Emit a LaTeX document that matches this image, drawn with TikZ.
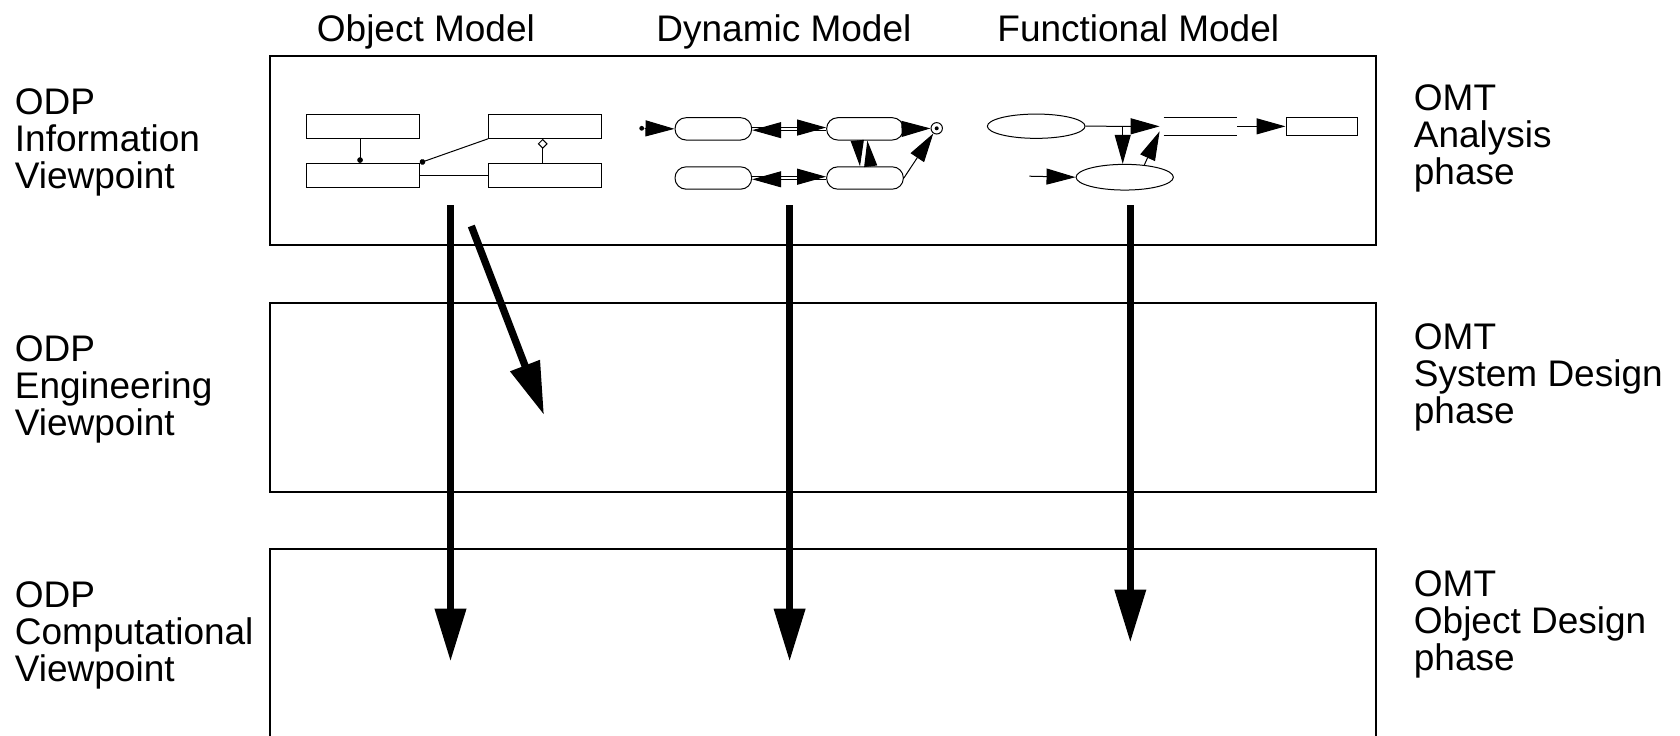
\documentclass[tikz,border=0pt]{standalone}
\usepackage{fontspec}
\setmainfont{Liberation Sans}
\usetikzlibrary{arrows.meta,shapes.geometric}
\begin{document}
\begin{tikzpicture}[x=0.5pt,y=-0.5pt,
  lbl/.style={anchor=base west, inner sep=0, font=\fontsize{18.5pt}{18.5pt}\selectfont},
  frame/.style={draw, line width=0.65pt},
  fine/.style={line width=0.5pt},
  cls/.style={draw, fine, minimum width=56.65pt, minimum height=12.15pt, inner sep=0},
  stt/.style={draw, fine, rounded corners=5.5pt, minimum width=38.35pt, minimum height=11.15pt, inner sep=0},
  sarrow/.style={fine, -{Triangle[length=14.5pt,width=8pt]}},
  varrow/.style={fine, -{Triangle[length=13pt,width=6.5pt]}},
  bigarrow/.style={line width=3.65pt, -{Triangle[length=26.5pt,width=15pt]}},
  dotend/.style={fine, -{Circle[length=2.8pt]}},
]
\useasboundingbox (0,0) rectangle (1680,735);
% headers
\node[lbl] (hObj) at (316.5,41) {Object Model};
\node[lbl] (hDyn) at (656,41) {Dynamic Model};
\node[lbl] (hFun) at (997,41) {Functional Model};
% left labels
\node[lbl] (l1a) at (14.5,114.6) {ODP};
\node[lbl] (l1b) at (14.5,151.6) {Information};
\node[lbl] (l1c) at (14.5,188.6) {Viewpoint};
\node[lbl] (l2a) at (14.5,361.1) {ODP};
\node[lbl] (l2b) at (14.5,398.1) {Engineering};
\node[lbl] (l2c) at (14.5,435.1) {Viewpoint};
\node[lbl] (l3a) at (14.5,607.6) {ODP};
\node[lbl] (l3b) at (14.5,644.6) {Computational};
\node[lbl] (l3c) at (14.5,681.6) {Viewpoint};
% right labels
\node[lbl] (r1a) at (1413.5,110.5) {OMT};
\node[lbl] (r1b) at (1413.5,147.5) {Analysis};
\node[lbl] (r1c) at (1413.5,184.5) {phase};
\node[lbl] (r2a) at (1413.5,349.5) {OMT};
\node[lbl] (r2b) at (1413.5,386.5) {System Design};
\node[lbl] (r2c) at (1413.5,423.5) {phase};
\node[lbl] (r3a) at (1413.5,596) {OMT};
\node[lbl] (r3b) at (1413.5,633) {Object Design};
\node[lbl] (r3c) at (1413.5,670) {phase};
% frames
\node[frame, minimum width=553pt, minimum height=94.5pt, inner sep=0] (box1) at (823,150.5) {};
\node[frame, minimum width=553pt, minimum height=94.5pt, inner sep=0] (box2) at (823,397.5) {};
\draw[frame] (270,740) -- (270,549) -- (1376,549) -- (1376,740);
% object model
\node[cls] (cTL) at (362.65,126.15) {};
\node[cls] (cTR) at (545.2,126.15) {};
\node[cls] (cBL) at (362.65,175.5) {};
\node[cls] (cBR) at (545.2,175.5) {};
\draw[dotend] ([xshift=-1.3pt]cTL.south) -- ([xshift=-1.3pt]cBL.north);
\draw[dotend] (cTR.south west) -- (cBL.north east);
\draw[fine] (cBL.east) -- (cBR.west);
\draw[fine, {Diamond[open,length=5pt,width=5pt]}-] ([xshift=-1.25pt]cTR.south) -- ([xshift=-1.25pt]cBR.north);
% dynamic model
\node[stt] (s1) at (713.35,128.85) {};
\node[stt] (s2) at (865,128.85) {};
\node[stt] (s3) at (713.35,178) {};
\node[stt] (s4) at (865,178) {};
\node[circle, fill, inner sep=0, minimum size=2.4pt] (init) at (641.7,128.3) {};
\node[circle, draw, fine, inner sep=0, minimum size=5.7pt] (final) at (936.7,128.3) {};
\fill (final.center) circle (1pt);
\draw[sarrow] (init) -- (s1.west);
\draw[sarrow] ([yshift=0.65pt]s1.east) -- ([yshift=0.65pt]s2.west);
\draw[sarrow] ([yshift=-0.65pt]s2.west) -- ([yshift=-0.65pt]s1.east);
\draw[sarrow] ([yshift=0.65pt]s3.east) -- ([yshift=0.65pt]s4.west);
\draw[sarrow] ([yshift=-0.65pt]s4.west) -- ([yshift=-0.65pt]s3.east);
\draw[varrow] ([xshift=-3.85pt]s2.south) -- ([xshift=-2.5pt]s4.north);
\draw[varrow] ([xshift=2.85pt]s4.north) -- ([xshift=1.15pt]s2.south);
\draw[sarrow] (s2.east) -- (final);
\draw[sarrow] (s4.east) -- (final);
% functional model
\node[ellipse, draw, fine, inner sep=0, minimum width=48.85pt, minimum height=12.15pt] (e1) at (1036.2,126.2) {};
\node[ellipse, draw, fine, inner sep=0, minimum width=48.65pt, minimum height=12.85pt] (e2) at (1124.7,177.2) {};
\node[inner sep=0, minimum width=36.35pt, minimum height=8.65pt] (store) at (1200.35,126.35) {};
\draw[fine] (store.north west) -- (store.north east);
\draw[fine] (store.south west) -- (store.south east);
\node[draw, fine, inner sep=0, minimum width=35.85pt, minimum height=8.65pt] (sink) at (1321.85,126.35) {};
\coordinate (junc) at (1122.7,126.2);
\coordinate (fin) at (1029.3,176.2);
\draw[sarrow] (e1.east) -- ([xshift=-2pt]store.west);
\draw[sarrow] (junc) -- (junc |- e2.north);
\draw[sarrow] (fin) -- (e2.west);
\draw[sarrow] (e2.32) -- ([xshift=-2pt,yshift=-2.5pt]store.west);
\draw[sarrow] (store.east) -- (sink.west);
% big arrows
\coordinate (a1s) at (450.5,205);
\coordinate (a1e) at (450.5,661.5);
\coordinate (a2s) at (471.3,226);
\coordinate (a2e) at (544,415);
\coordinate (a3s) at (789.6,205);
\coordinate (a3e) at (789.6,661.5);
\coordinate (a4s) at (1130.3,205);
\coordinate (a4e) at (1130.3,642.5);
\draw[bigarrow] (a1s) -- (a1e);
\draw[bigarrow] (a2s) -- (a2e);
\draw[bigarrow] (a3s) -- (a3e);
\draw[bigarrow] (a4s) -- (a4e);
\end{tikzpicture}
\end{document}
